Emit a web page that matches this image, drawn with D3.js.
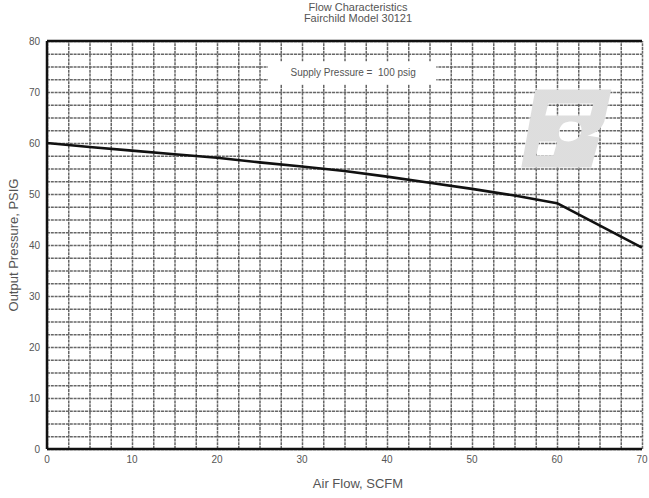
<!DOCTYPE html>
<html lang="en">
<head>
  <meta charset="UTF-8">
  <title>Flow Characteristics - Fairchild Model 30121</title>
  <style>
      body { margin: 0; background: #fff; }
      .grid line { stroke: #666; stroke-width: 1.5; stroke-dasharray: 3,0.8; }
      .grid path { stroke-width: 0; }
      .tick-label { font: 10px "Liberation Sans Narrow", "Liberation Sans", Arial, sans-serif; fill: #555; }
      .title { font: 11px "Liberation Sans Narrow", "Liberation Sans", Arial, sans-serif; fill: #555; }
      .axis-title { font: 13px "Liberation Sans Narrow", "Liberation Sans", Arial, sans-serif; fill: #555; }
  </style>
</head>
<body>
<div id="chart"></div>
<script src="https://d3js.org/d3.v7.min.js"></script>
<script>
  // air flow (SCFM) vs output pressure (PSIG)
  const airFlow = [0, 5, 10, 15, 20, 25, 30, 35, 40, 45, 50, 55, 60, 70];
  const outputPressure = [60, 59.2, 58.5, 57.8, 57.1, 56.2, 55.4, 54.5, 53.4, 52.2, 51.0, 49.7, 48.2, 39.5];

  const xTicks = [0, 10, 20, 30, 40, 50, 60, 70];
  const yTicks = [0, 10, 20, 30, 40, 50, 60, 70, 80];
  const gridStep = 2.5;

  const titleLines = ["Flow Characteristics", "Fairchild Model 30121"];
  const legendText = "Supply Pressure =  100 psig";

  const W = 649, H = 498;
  const margin = {top: 41, right: 7, bottom: 49, left: 47},
    width = W - margin.left - margin.right,
    height = H - margin.top - margin.bottom;

  const svg = d3.select("#chart").append("svg")
    .attr("width", W)
    .attr("height", H);

  const g = svg.append("g")
    .attr("transform", `translate(${margin.left},${margin.top})`);

  const x = d3.scaleLinear().domain([0, 70]).range([0, width]);
  const y = d3.scaleLinear().domain([0, 80]).range([height, 0]);

  const xGrid = d3.range(0, 70 + 0.01, gridStep);
  const yGrid = d3.range(0, 80 + 0.01, gridStep);

  // grid
  g.append("g")
    .attr("class", "grid")
    .attr("transform", `translate(0,${height})`)
    .call(d3.axisBottom(x).tickValues(xGrid).tickSize(-height).tickFormat(""));

  g.append("g")
    .attr("class", "grid")
    .call(d3.axisLeft(y).tickValues(yGrid).tickSize(-width).tickFormat(""));

  // watermark logo (dithered look)
  const pat = svg.append("defs").append("pattern")
    .attr("id", "dots").attr("width", 2).attr("height", 2)
    .attr("patternUnits", "userSpaceOnUse");
  pat.append("rect").attr("width", 2).attr("height", 2).attr("fill", "#ececec");
  pat.append("rect").attr("width", 1).attr("height", 1).attr("fill", "#cfcfcf");
  pat.append("rect").attr("x", 1).attr("y", 1).attr("width", 1).attr("height", 1).attr("fill", "#cfcfcf");

  const logo = g.append("g")
    .attr("transform", `translate(${x(55.8)},${y(70.5)})`)
    .attr("fill", "url(#dots)");
  logo.append("path")
    .attr("fill-rule", "evenodd")
    .attr("d",
      "M14,0 L90,0 L83,32 C80,40 74,44 66,46 L78,48 L70,78 L0,78 Z " +
      "M27,14 L72,14 L69,26 L24,26 Z " +
      "M42,34 C50,30 62,32 60,42 C58,52 46,54 40,50 C36,46 37,38 42,34 Z " +
      "M18,52 L36,52 L32,66 L15,66 Z");

  // legend box
  const lg = g.append("g");
  lg.append("rect")
    .attr("x", x(26)).attr("y", y(76))
    .attr("width", x(45.8) - x(26)).attr("height", y(71.5) - y(76))
    .attr("fill", "#fff");
  lg.append("text")
    .attr("class", "tick-label")
    .attr("x", (x(26) + x(45.8)) / 2 + 1)
    .attr("y", y(73.8) + 3.5)
    .attr("text-anchor", "middle")
    .style("white-space", "pre")
    .text(legendText);

  // frame: top, left, bottom in black
  g.append("line").attr("x1", 0).attr("x2", width).attr("y1", 0).attr("y2", 0)
    .attr("stroke", "#111").attr("stroke-width", 2.5);
  g.append("line").attr("x1", 0).attr("x2", 0).attr("y1", 0).attr("y2", height)
    .attr("stroke", "#111").attr("stroke-width", 2.5);
  g.append("line").attr("x1", 0).attr("x2", width).attr("y1", height).attr("y2", height)
    .attr("stroke", "#111").attr("stroke-width", 2.5);

  // tick labels
  g.selectAll(".xlab")
    .data(xTicks)
    .enter().append("text")
    .attr("class", "tick-label")
    .attr("x", d => x(d))
    .attr("y", height + 14)
    .attr("text-anchor", "middle")
    .text(d => d);

  g.selectAll(".ylab")
    .data(yTicks)
    .enter().append("text")
    .attr("class", "tick-label")
    .attr("x", -7)
    .attr("y", d => y(d) + 3.5)
    .attr("text-anchor", "end")
    .text(d => d);

  // data line
  const line = d3.line()
    .x((d, i) => x(airFlow[i]))
    .y(d => y(d));

  g.append("path")
    .datum(outputPressure)
    .attr("fill", "none")
    .attr("stroke", "#111")
    .attr("stroke-width", 2.6)
    .attr("stroke-linejoin", "round")
    .attr("d", line);

  // titles
  svg.selectAll(".title")
    .data(titleLines)
    .enter().append("text")
    .attr("class", "title")
    .attr("x", 358)
    .attr("y", (d, i) => 11 + i * 11)
    .attr("text-anchor", "middle")
    .text(d => d);

  svg.append("text")
    .attr("class", "axis-title")
    .attr("transform", `translate(18,${margin.top + height / 2}) rotate(-90)`)
    .attr("text-anchor", "middle")
    .text("Output Pressure, PSIG");

  svg.append("text")
    .attr("class", "axis-title")
    .attr("x", 358)
    .attr("y", 488)
    .attr("text-anchor", "middle")
    .text("Air Flow, SCFM");
</script>
</body>
</html>
